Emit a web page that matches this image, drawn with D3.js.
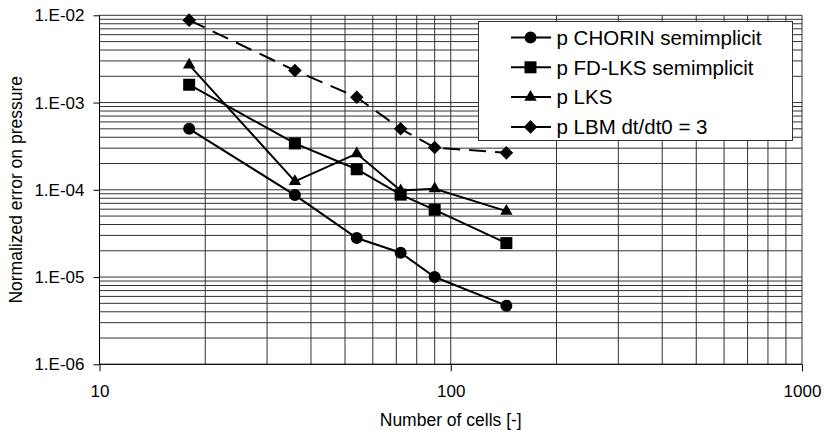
<!DOCTYPE html>
<html>
<head>
<meta charset="utf-8">
<script src="https://cdn.jsdelivr.net/npm/d3@7"></script>
<style>
  body { margin: 0; background: #fff; }
  svg { display: block; font-family: 'Liberation Sans', Arial, sans-serif; }
</style>
</head>
<body>
<div id="chart"></div>
<script>
// number of cells (x) and normalized pressure error per scheme (y)
const cells = [18, 36, 54, 72, 90, 144]
const chorin = [5.0e-4, 8.7e-5, 2.8e-5, 1.9e-5, 1.0e-5, 4.7e-6]
const fdLks = [1.6e-3, 3.4e-4, 1.72e-4, 8.8e-5, 5.9e-5, 2.45e-5]
const lks = [2.7e-3, 1.25e-4, 2.6e-4, 9.8e-5, 1.03e-4, 5.7e-5]
const lbm = [8.8e-3, 2.33e-3, 1.15e-3, 5.0e-4, 3.05e-4, 2.65e-4]

const seriesNames = ['p CHORIN semimplicit', 'p FD-LKS semimplicit', 'p LKS', 'p LBM dt/dt0 = 3']
const xTicks = [10, 100, 1000]
const xTickLabels = ['10', '100', '1000']
const yTicks = [1e-6, 1e-5, 1e-4, 1e-3, 1e-2]
const yTickLabels = ['1.E-06', '1.E-05', '1.E-04', '1.E-03', '1.E-02']

const width = 825
const height = 430
const plotLeft = 99.5
const plotRight = 802
const plotTop = 15.3
const plotBottom = 364.3

const x = d3.scaleLog().domain([10, 1000]).range([plotLeft, plotRight])
const y = d3.scaleLog().domain([1e-6, 1e-2]).range([plotBottom, plotTop])

const svg = d3
  .select('#chart')
  .append('svg')
  .attr('width', width)
  .attr('height', height)

// minor + major grid lines (1..9 in each decade)
const xGrid = []
for (let d = 10; d < 1000; d *= 10) for (let k = 1; k <= 9; k++) xGrid.push(d * k)
xGrid.push(1000)
const yGrid = []
for (let e = -6; e < -2; e++) for (let k = 1; k <= 9; k++) yGrid.push(k * Math.pow(10, e))
yGrid.push(1e-2)

const grid = svg.append('g').attr('class', 'grid').style('stroke', '#333').style('stroke-width', 1)
grid
  .selectAll('.vgrid')
  .data(xGrid)
  .enter()
  .append('line')
  .attr('x1', (d) => x(d))
  .attr('x2', (d) => x(d))
  .attr('y1', plotTop)
  .attr('y2', plotBottom)
grid
  .selectAll('.hgrid')
  .data(yGrid)
  .enter()
  .append('line')
  .attr('x1', plotLeft)
  .attr('x2', plotRight)
  .attr('y1', (d) => y(d))
  .attr('y2', (d) => y(d))

// axes
const xAxis = d3
  .axisBottom(x)
  .tickValues(xTicks)
  .tickFormat((d, i) => xTickLabels[i])
  .tickSize(7)
  .tickPadding(14)
const yAxis = d3
  .axisLeft(y)
  .tickValues(yTicks)
  .tickFormat((d, i) => yTickLabels[i])
  .tickSize(6)
  .tickPadding(9)

const gx = svg.append('g').attr('transform', `translate(0,${plotBottom})`).call(xAxis)
const gy = svg.append('g').attr('transform', `translate(${plotLeft},0)`).call(yAxis)
;[gx, gy].forEach((g) => {
  g.selectAll('line').style('stroke', '#000').style('stroke-width', 1)
  g.selectAll('text').style('font-size', '17px').style('fill', '#000')
  g.attr('font-family', null)
  g.select('.domain').remove()
})
gx.append('line').attr('x1', plotLeft).attr('x2', plotRight).style('stroke', '#000')
gy.append('line').attr('y1', plotTop).attr('y2', plotBottom).style('stroke', '#000')

// axis titles
svg
  .append('text')
  .attr('x', (plotLeft + plotRight) / 2)
  .attr('y', 426)
  .attr('text-anchor', 'middle')
  .style('font-size', '17.5px')
  .text('Number of cells [-]')
svg
  .append('text')
  .attr('transform', `translate(22,${(plotTop + plotBottom) / 2}) rotate(-90)`)
  .attr('text-anchor', 'middle')
  .style('font-size', '17.5px')
  .text('Normalized error on pressure')

// series
const symbols = [
  { type: d3.symbolCircle, size: 113, rot: 0 },
  { type: d3.symbolSquare, size: 144, rot: 0 },
  { type: d3.symbolTriangle, size: 66, rot: 0 },
  { type: d3.symbolSquare, size: 92, rot: 45 },
]
const allSeries = [chorin, fdLks, lks, lbm]
const dashes = [null, null, null, '17,9']

const line = d3
  .line()
  .x((d) => x(d[0]))
  .y((d) => y(d[1]))

allSeries.forEach((vals, i) => {
  const pts = cells.map((c, j) => [c, vals[j]])
  const g = svg.append('g').attr('class', 'series')
  g.append('path')
    .datum(pts)
    .attr('d', line)
    .style('fill', 'none')
    .style('stroke', '#000')
    .style('stroke-width', 2)
    .style('stroke-dasharray', dashes[i])
  g.selectAll('.marker')
    .data(pts)
    .enter()
    .append('path')
    .attr('transform', (d) => `translate(${x(d[0])},${y(d[1])}) rotate(${symbols[i].rot})`)
    .attr('d', d3.symbol().type(symbols[i].type).size(symbols[i].size))
    .style('fill', '#000')
})

// legend
const legend = svg.append('g').attr('class', 'legend')
legend
  .append('rect')
  .attr('x', 478.5)
  .attr('y', 21.5)
  .attr('width', 314)
  .attr('height', 119)
  .style('fill', '#fff')
  .style('stroke', '#333')
  .style('stroke-width', 1)

seriesNames.forEach((name, i) => {
  const cy = 37.5 + i * 29.8
  const row = legend.append('g')
  row
    .append('line')
    .attr('x1', 511)
    .attr('x2', 551)
    .attr('y1', cy)
    .attr('y2', cy)
    .style('stroke', '#000')
    .style('stroke-width', 2)
  row
    .append('path')
    .attr('transform', `translate(530.5,${cy}) rotate(${symbols[i].rot})`)
    .attr('d', d3.symbol().type(symbols[i].type).size(symbols[i].size))
    .style('fill', '#000')
  row
    .append('text')
    .attr('x', 556.5)
    .attr('y', cy + 7.3)
    .style('font-size', '20.5px')
    .text(name)
})
</script>
</body>
</html>
